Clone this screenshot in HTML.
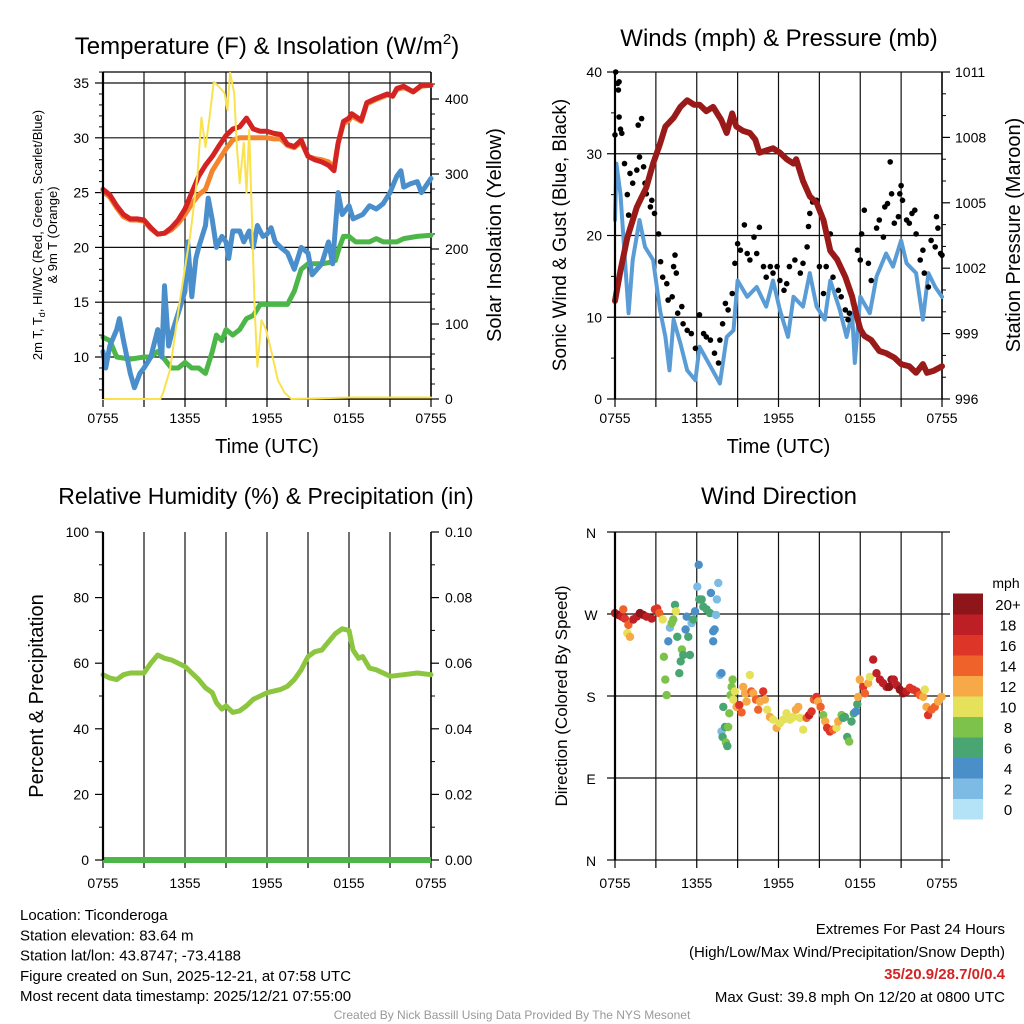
<!DOCTYPE html>
<html><head><meta charset="utf-8"><style>
body{margin:0;background:#fff;}
svg{display:block;font-family:"Liberation Sans",Arial,sans-serif;}
</style></head><body>
<svg id="c" width="1024" height="1024" viewBox="0 0 1024 1024"></svg>
<script>
// ---------- DATA ----------
const tempHours=[0,0.5,1,1.5,2,2.5,3,3.5,4,4.5,5,5.5,6,6.5,7,7.5,8,8.5,9,9.5,10,10.5,11,11.5,12,12.5,13,13.5,14,14.5,15,15.5,16,16.5,16.9,17.2,17.6,18,18.2,18.9,19.3,20,20.8,21.2,21.5,22,22.7,23.3,24];
const tempRed=[25.3,24.8,23.8,23,22.6,22.6,22.5,21.8,21.2,21.3,21.8,22.5,23.5,25,26.5,27.5,28.3,29.3,30.2,30.8,31,31.8,30.8,30.6,30.6,30.4,30.3,29.4,29.2,29.8,28.3,28,27.8,27.5,27,29.5,31.5,31.8,32.2,31.6,33.2,33.6,34,33.8,34.5,34.7,34.2,34.8,34.8];
const tempOrange=[25.1,24.6,23.6,22.8,22.5,22.5,22.4,21.7,21.2,21.3,21.6,22.2,23,24,24.8,25.3,27,28,29,29.8,30,30,30,30,30,29.9,29.9,29.3,29.1,29.6,28.3,28.1,28,27.8,27.3,29.5,31.3,31.6,32,31.5,33.1,33.5,33.9,33.8,34.4,34.6,34.2,34.7,34.8];
const blueHours=[0,0.2,0.5,1,1.2,1.5,2,2.3,2.7,3,3.5,4,4.3,4.5,4.8,5,5.5,6,6.2,6.5,6.8,7,7.5,7.7,8,8.3,8.7,9,9.2,9.5,10,10.3,10.7,11,11.3,11.7,12,12.3,12.6,13,13.5,14,14.5,15,15.3,16,16.5,16.8,17.2,17.5,18,18.3,19,19.5,20,20.5,21,21.5,21.8,22,22.5,23,23.3,24];
const blueVals=[10.5,9,11,12.5,13.5,11.5,8.5,7.2,8.5,9,10,12.5,10,16.5,11,12,14,16,20.5,15.5,19,20,22,24.5,22.5,20,21,20.5,19,21.5,21.5,20.5,21.5,20,22,21,21.2,21.8,20.5,20,19.5,18,20,19.5,17.5,18.5,20.5,18.5,25,23,23.8,22.6,23,23.8,23.5,24,25,26.5,27,25.5,25.8,26,25,26.3];
const greenHours=[0,0.5,1,2,3,3.5,4,4.5,5,5.5,6,6.5,7,7.5,8,8.3,8.7,9,9.5,10,10.5,11,11.5,12,12.5,13,13.5,14,14.5,15,15.5,16,16.5,17,17.3,17.6,18,18.5,19,19.5,20,20.5,21,21.5,22,23,24];
const greenVals=[11.8,11.5,10,9.8,10,10,10.5,9.8,9,9,9.5,9,9,8.5,10.5,12,11.5,12.5,12,12.5,13.5,13.8,14.8,14.8,14.8,14.8,14.8,16,18,18.5,18.5,18.5,18.6,18.8,20,21,21,20.5,20.5,20.5,20.8,20.5,20.5,20.5,20.8,21,21.1];
const solarHours=[0,4.2,4.4,4.9,5.6,6.4,6.9,7.2,7.5,7.8,8.1,8.4,8.9,9.1,9.3,9.6,9.8,10,10.3,10.5,10.7,10.9,11.1,11.3,11.6,11.9,12.3,12.8,13.3,13.8,18,24];
const solarVals=[0,0,8,39,128,221,296,375,336,376,423,418,408,385,435,408,336,288,342,275,359,239,119,43,105,94,65,25,8,0,2,2];
const windHours=[0,0.1,0.4,0.7,1,1.3,1.8,2.2,2.8,3.3,3.7,4,4.3,4.8,5.3,5.9,6.2,7,7.7,8.2,8.7,9,9.7,10.4,11.1,11.6,12.1,12.7,13.1,13.8,14.3,14.8,15.4,15.8,16.5,17,17.4,17.6,18,18.7,19.2,19.9,20.4,21,21.4,22.1,22.6,23,23.5,24];
const windVals=[21.9,28.8,25,17.8,10.5,17,21.9,18.6,17,10.9,7.6,3.5,9.7,6.8,3.5,2.3,6.4,4,1.9,7.6,8.4,14.5,12.5,13.7,11.3,14.5,10.9,7.6,12.5,11.3,15.4,11.3,9.7,14.5,10.9,7.6,10.5,4.4,12.5,10.5,15,17.8,16.2,19.4,16.6,15.4,9.7,15.4,13.7,12.5];
const gustHours=[0.05,0,0.2,0.3,0.25,0.3,0.4,0.5,0.7,0.9,1,1.1,1.3,1.6,1.7,1.8,1.95,2.1,2.2,2.3,2.6,2.7,2.9,3.2,3.35,3.5,3.8,3.9,4.2,4.3,4.4,4.5,4.6,4.9,5,5.3,5.6,5.9,6.2,6.5,6.7,7,7.3,7.6,7.7,7.9,8.1,8.3,8.6,8.8,9,9.2,9.5,9.7,9.9,10.2,10.4,10.6,10.9,11.1,11.4,11.6,11.9,12.1,12.4,12.6,12.8,13.2,13.6,13.8,14.1,14.2,14.3,14.5,14.8,15,15.3,15.5,15.8,16,16.4,16.6,16.9,17.1,17.2,17.5,17.8,18,18.1,18.3,18.6,18.8,19.2,19.4,19.7,19.8,20,20.2,20.3,20.5,20.8,20.9,21,21.1,21.4,21.6,21.8,22,22.1,22.4,22.6,22.7,23,23.2,23.5,23.6,23.7,23.9,24];
const gustVals=[40,32.3,38.6,38.8,37.8,34.5,33,32.5,28.8,25,22.5,27.6,26.4,28,33.5,29.6,34.3,28.4,26.4,25.1,23.5,24.3,22.7,20.2,16.8,14.9,14.1,12.1,12.5,16.2,17.6,15.4,10.5,11.3,9.2,8.4,8,6.2,10.3,8,7.6,7.2,5.6,4.4,7.2,9.2,11.7,10.9,12.9,16.6,19,18.2,21.3,17.8,17,19.8,17.8,21,16.2,14.9,16.2,15.4,16.2,14.5,13.3,14.1,16.2,17,15.4,16.6,18.6,21.1,22.7,24.1,24.3,16.2,12.9,16.2,20.2,14.9,13.3,12.5,10.9,9.7,10.5,11.7,18.2,17,20.2,23.1,16.6,14.5,20.9,21.9,19.8,23.5,23.9,29,25.1,21.5,22.3,25.1,26.1,24.3,21.9,21.5,22.7,23.1,20.2,17,18.2,15.4,13.7,19.4,18.6,22.3,20.9,17.8,17.6];
const presHours=[0,0.4,0.9,1.6,2.3,2.8,3.3,3.7,4.3,4.8,5.3,5.8,6.2,6.7,7.2,7.8,8.2,8.6,8.9,9.4,9.9,10.3,10.6,11.1,11.6,12.1,12.6,13.1,13.3,13.8,14.3,14.8,15.3,15.8,16.3,16.9,17.4,17.7,18,18.3,18.8,19.4,19.9,20.5,21,21.6,22.1,22.6,22.9,23.4,24];
const presVals=[1000.5,1001.9,1003.4,1004.8,1005.7,1006.8,1007.7,1008.5,1008.9,1009.4,1009.7,1009.5,1009.5,1009.2,1009.4,1008.8,1008.2,1009.1,1008.5,1008.3,1008.2,1007.9,1007.3,1007.4,1007.5,1007.3,1007,1006.8,1007,1006,1005.3,1005,1004.2,1002.8,1002.4,1001.6,1000.7,999.9,999.2,998.9,998.7,998.2,998.1,997.9,997.6,997.5,997.2,997.6,997.2,997.3,997.5];
const rhHours=[0,0.5,1,1.5,2,3,3.5,4,4.5,5,5.5,6,6.5,7,7.5,8,8.3,8.7,9,9.5,10,10.5,11,12,13,13.5,14,14.5,15,15.5,16,16.5,17,17.5,18,18.3,18.7,19,19.5,20,20.5,21,22,23,24];
const rhVals=[56.5,55.5,55,56.5,57,57,60,62.5,61.5,61,60,59,57,55,52.5,51,48,46,47,45,45.5,47,49,51,52,53,55,58,62,63.5,64,66.5,69,70.5,70,64,61.5,62,58.5,58,57,56,56.5,57,56.5];
const dirHours=[0,0.24,0.49,0.61,0.73,0.9,0.98,1.1,1.34,1.59,1.83,2.08,2.32,2.69,2.93,3.1,3.25,3.5,3.59,3.69,3.79,3.91,4.03,4.16,4.28,4.4,4.47,4.57,4.72,4.82,4.91,5.01,5.18,5.26,5.38,5.5,5.62,5.75,5.87,6.04,6.14,6.19,6.36,6.48,6.72,6.97,7.04,7.21,7.31,7.21,7.41,7.48,7.58,7.7,7.82,7.95,7.82,7.9,8.07,8.14,8.24,8.31,8.39,8.48,8.56,8.63,8.68,8.8,8.92,9.12,9.29,9.41,9.54,9.66,9.9,10,10.15,10.34,10.51,10.64,10.88,11,11.17,11.37,11.61,11.86,12.1,12.35,12.59,12.84,13.08,13.28,13.45,13.57,13.81,14.06,14.25,14.43,14.6,14.79,14.91,15.09,15.28,15.43,15.57,15.77,16.01,16.26,16.38,16.63,16.75,16.87,17.04,17.19,17.36,17.53,17.68,17.78,17.85,17.97,18.22,18.34,18.58,18.7,18.95,19.19,19.44,19.68,19.93,20.12,20.29,20.46,20.66,20.9,21.15,21.39,21.64,21.88,22.13,22.37,22.62,22.74,22.86,22.98,23.23,23.47,23.72,23.96];
const dirDeg=[271,269,267,275,265,249,258,245,264,267,271,269,267,265,275,276,271,264,223,198,181,240,255,260,264,280,273,245,205,218,231,225,253,267,245,225,260,264,273,300,324,286,286,278,275,271,293,251,253,240,269,286,304,203,205,168,141,135,146,129,125,146,161,181,190,198,176,185,168,170,162,190,183,174,203,185,183,176,165,174,185,176,165,157,154,145,150,154,161,154,157,165,168,156,143,156,159,163,176,179,174,168,159,152,145,141,143,145,152,159,156,157,135,130,152,161,163,171,179,198,190,183,194,201,220,205,198,194,190,190,198,198,192,187,183,185,189,187,185,181,179,187,168,159,165,168,174,179,178];
const dirSpeed=[18,20,18,14,16,10,14,12,18,18,20,20,18,18,16,16,14,10,8,8,8,4,2,8,8,6,10,6,6,6,8,6,4,4,6,6,2,6,4,2,4,6,6,6,6,6,4,4,4,4,2,2,2,2,4,6,2,6,6,8,6,8,8,8,8,8,10,10,12,16,14,12,12,12,10,14,12,14,14,12,16,12,10,12,10,12,10,10,10,10,10,12,12,10,10,14,18,16,14,16,12,14,8,12,16,16,14,10,12,8,6,6,6,8,6,6,4,6,12,12,16,14,12,10,18,18,18,18,18,20,20,18,18,20,20,18,16,16,16,14,12,10,12,16,14,14,12,12];
const speedBins=["0","2","4","6","8","10","12","14","16","18","20+"];
const speedColors=["#b4e3f8","#7dbae4","#4a8fc8","#49a571","#7dc24b","#e6e15b","#f6a946","#ef6229","#dd3527","#be1e25","#8e1519"];
const timeLabels=["0755","1355","1955","0155","0755"];

// ---------- HELPERS ----------
const NS="http://www.w3.org/2000/svg";
const svg=document.getElementById('c');
function el(tag,attrs,parent,txt){const e=document.createElementNS(NS,tag);for(const k in attrs)e.setAttribute(k,attrs[k]);if(txt!==undefined)e.textContent=txt;(parent||svg).appendChild(e);return e;}
function txt(x,y,s,size,anchor,name,extra){const t=el('text',Object.assign({x:x,y:y,'font-size':size,'text-anchor':anchor||'middle',fill:'#000'},extra||{}),svg,s);


return t;}
function line(x1,y1,x2,y2,w,c,name){const l=el('line',{x1:x1,y1:y1,x2:x2,y2:y2,stroke:c||'#000','stroke-width':w||1});


return l;}
function poly(xs,ys,fx,fy,c,w,name){const pts=xs.map((h,i)=>fx(h).toFixed(1)+','+fy(ys[i]).toFixed(1)).join(' ');
const p=el('polyline',{points:pts,fill:'none',stroke:c,'stroke-width':w,'stroke-linejoin':'round','stroke-linecap':'round'});


return p;}

function timeAxis(x0,x1,yb,labelY,withTitle,name){
  const fx=h=>x0+(x1-x0)*h/24;
  for(let i=0;i<=8;i++){line(fx(i*3),yb,fx(i*3),yb+8,1.2,'#000','x-tick');}
  timeLabels.forEach((s,i)=>txt(fx(i*6),labelY,s,14,'middle','x-tick-label'));
  if(withTitle)txt((x0+x1)/2,labelY+30,'Time (UTC)',20,'middle','x-axis-title');
  return fx;
}
function vgrid(x0,x1,yt,yb){const fx=h=>x0+(x1-x0)*h/24;for(let i=0;i<=8;i++)line(fx(i*3),yt,fx(i*3),yb,i==0?2:1.2,'#111','vertical-grid-line');}

// ---------- PANEL 1: Temperature ----------
(function(){
 const x0=103,x1=431,yt=72,yb=399;
 const fy=v=>357-(v-10)*10.96, fs=w=>399-w*0.75;
 const fx=h=>x0+(x1-x0)*h/24;
 txt(267,54,'Temperature (F) & Insolation (W/m',24,'middle','temp-panel-title').innerHTML='Temperature (F) &amp; Insolation (W/m<tspan font-size="15" dy="-10">2</tspan><tspan dy="10">)</tspan>';
 vgrid(x0,x1,yt,yb);
 line(x0,yt,x1,yt,1.2);
 [10,15,20,25,30,35].forEach(v=>{line(x0,fy(v),x1,fy(v),1.2,'#111','horizontal-grid-line');line(x0-8,fy(v),x0,fy(v),1.2,'#000','y-tick');txt(x0-14,fy(v)+5,String(v),14,'end','y-tick-label');});
 for(let v=7;v<=36;v++){if(v%5)line(x0-4,fy(v),x0,fy(v),1,'#000','y-minor-tick');}
 line(x1,yt,x1,yb,1.5,'#000','right-axis');
 [0,100,200,300,400].forEach(w=>{line(x1,fs(w),x1+8,fs(w),1.2,'#000','y2-tick');txt(x1+14,fs(w)+5,String(w),14,'start','y2-tick-label');});
 for(let w=20;w<430;w+=20){if(w%100)line(x1,fs(w),x1+4,fs(w),1,'#000','y2-minor-tick');}
 line(x0,yb,x1,yb,1.5,'#000','x-axis');
 timeAxis(x0,x1,yb,423,true);
 const l=txt(0,0,'2m T, T',13,'middle','y-axis-title',{transform:'translate(42,235) rotate(-90)'});
 l.innerHTML='2m T, T<tspan font-size="9" dy="3">d</tspan><tspan dy="-3">, HI/WC (Red, Green, Scarlet/Blue)</tspan>';
 txt(0,0,'& 9m T (Orange)',13,'middle','y-axis-title-line2',{transform:'translate(57,235) rotate(-90)'});
 txt(0,0,'Solar Insolation (Yellow)',20,'middle','y2-axis-title',{transform:'translate(501,235) rotate(-90)'});
 poly(greenHours,greenVals,fx,fy,'#4cb748',5,'dewpoint-line');
 poly(blueHours,blueVals,fx,fy,'#4a8fcb',5,'wind-chill-line');
 poly(tempHours,tempOrange,fx,fy,'#f3852e',5,'9m-temp-line');
 poly(tempHours,tempRed,fx,fy,'#d42323',5,'2m-temp-line');
 poly(solarHours,solarVals,fx,fs,'#fae24e',2,'insolation-line');
 line(x0,yt,x0,yb,2.2,'#000','y-axis');
})();

// ---------- PANEL 2: Winds ----------
(function(){
 const x0=615,x1=942,yt=72,yb=399;
 const fy=v=>399-v*8.175, fp=p=>399-(p-996)*21.8;
 const fx=h=>x0+(x1-x0)*h/24;
 txt(779,46,'Winds (mph) & Pressure (mb)',24,'middle','wind-panel-title');
 vgrid(x0,x1,yt,yb);
 [0,10,20,30,40].forEach(v=>{line(x0,fy(v),x1,fy(v),1.2,'#111','horizontal-grid-line');line(x0-8,fy(v),x0,fy(v),1.2,'#000','y-tick');txt(x0-13,fy(v)+5,String(v),14,'end','y-tick-label');});
 for(let v=5;v<40;v+=10)line(x0-4,fy(v),x0,fy(v),1,'#000','y-minor-tick');
 line(x1,yt,x1,yb,1.5,'#000','right-axis');
 [996,999,1002,1005,1008,1011].forEach(p=>{line(x1,fp(p),x1+8,fp(p),1.2,'#000','y2-tick');txt(x1+13,fp(p)+5,String(p),14,'start','y2-tick-label');});
 for(let p=997;p<1011;p++){if((p-996)%3)line(x1,fp(p),x1+4,fp(p),1,'#000','y2-minor-tick');}
 timeAxis(x0,x1,yb,423,true);
 txt(0,0,'Sonic Wind & Gust (Blue, Black)',19,'middle','y-axis-title',{transform:'translate(566,235) rotate(-90)'});
 txt(0,0,'Station Pressure (Maroon)',20,'middle','y2-axis-title',{transform:'translate(1020,235) rotate(-90)'});
 poly(windHours,windVals,fx,fy,'#5a9dd6',4,'sonic-wind-line');
 gustHours.forEach((h,i)=>{const c=el('circle',{cx:fx(h).toFixed(1),cy:fy(gustVals[i]).toFixed(1),r:2.8,fill:'#000'});
 
 });
 poly(presHours,presVals,fx,fp,'#9a1a1a',6,'pressure-line');
 line(x0,yt,x0,yb,2.2,'#000','y-axis');
})();

// ---------- PANEL 3: RH ----------
(function(){
 const x0=103,x1=431,yt=532,yb=860;
 const fy=v=>860-v*3.28;
 const fx=h=>x0+(x1-x0)*h/24;
 txt(266,504,'Relative Humidity (%) & Precipitation (in)',23,'middle','rh-panel-title');
 vgrid(x0,x1,yt,yb);
 [0,20,40,60,80,100].forEach(v=>{line(x0-8,fy(v),x0,fy(v),1.2,'#000','y-tick');txt(x0-14,fy(v)+5,String(v),14,'end','y-tick-label');
   line(x1,fy(v),x1+8,fy(v),1.2,'#000','y2-tick');txt(x1+14,fy(v)+5,(v/1000).toFixed(2),14,'start','y2-tick-label');});
 for(let v=10;v<100;v+=20){line(x0-4,fy(v),x0,fy(v),1,'#000','y-minor-tick');line(x1,fy(v),x1+4,fy(v),1,'#000','y2-minor-tick');}
 line(x1,yt,x1,yb,1.5,'#000','right-axis');
 timeAxis(x0,x1,yb,888,false);
 txt(0,0,'Percent & Precipitation',20,'middle','y-axis-title',{transform:'translate(43,696) rotate(-90)'});
 poly(rhHours,rhVals,fx,fy,'#8cc63f',5,'rh-line');
 line(x0,yb,x1,yb,6,'#4cb748','precip-line');
 line(x0,yt,x0,yb,2.2,'#000','y-axis');
})();

// ---------- PANEL 4: Wind direction ----------
(function(){
 const x0=615,x1=942,yt=532,yb=860;
 const fy=d=>860-d*0.9111;
 const fx=h=>x0+(x1-x0)*h/24;
 txt(779,504,'Wind Direction',24,'middle','direction-panel-title');
 vgrid(x0,x1,yt,yb);
 [[360,'N'],[270,'W'],[180,'S'],[90,'E'],[0,'N']].forEach(a=>{line(x0-8,fy(a[0]),x1+8,fy(a[0]),1.2,'#111','horizontal-grid-line');txt(591,fy(a[0])+6,a[1],14,'middle','direction-label');});
 timeAxis(x0,x1,yb,888,false);
 txt(0,0,'Direction (Colored By Speed)',17,'middle','y-axis-title',{transform:'translate(567,696) rotate(-90)'});
 dirHours.forEach((h,i)=>{const c=el('circle',{cx:fx(h).toFixed(1),cy:fy(dirDeg[i]).toFixed(1),r:4.2,fill:speedColors[Math.min(10,Math.round(dirSpeed[i]/2))]});
 
 });
 line(x0,yt,x0,yb,2.2,'#000','y-axis');
 // colorbar
 txt(1006,588,'mph',14,'middle','colorbar-title');
 const bh=20.5;
 speedBins.forEach((s,i)=>{const y=819-(i+1)*bh;const r=el('rect',{x:953,y:y.toFixed(1),width:30,height:bh+0.5,fill:speedColors[i]});
 
 
 txt(1008,y+bh/2+6,s,15,'middle','colorbar-label');});
})();

// ---------- FOOTER ----------
['Location: Ticonderoga','Station elevation: 83.64 m','Station lat/lon: 43.8747; -73.4188','Figure created on Sun, 2025-12-21, at 07:58 UTC','Most recent data timestamp: 2025/12/21 07:55:00'].forEach((s,i)=>txt(20,920+i*20.3,s,15,'start','station-info-line'));
txt(1005,934,'Extremes For Past 24 Hours',15,'end','extremes-title');
txt(1005,957,'(High/Low/Max Wind/Precipitation/Snow Depth)',15,'end','extremes-subtitle');
txt(1005,979,'35/20.9/28.7/0/0.4',15,'end','extremes-values',{fill:'#d42323','font-weight':'bold'});
txt(1005,1002,'Max Gust: 39.8 mph On 12/20 at 0800 UTC',15,'end','max-gust');
txt(512,1019,'Created By Nick Bassill Using Data Provided By The NYS Mesonet',12,'middle','credit-line',{fill:'#999'});
</script>
</body></html>
